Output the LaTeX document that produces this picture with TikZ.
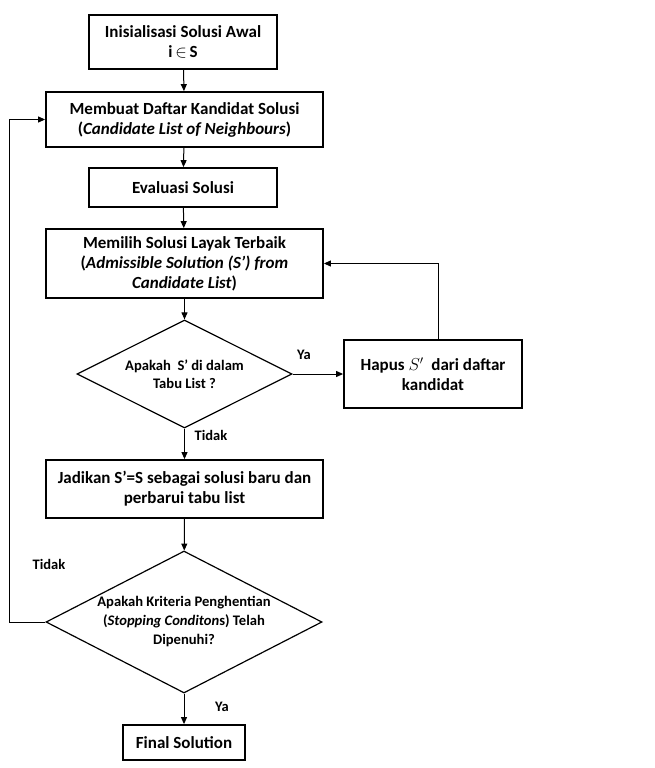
\documentclass[tikz,border=0pt]{standalone}
\usepackage{fontspec}
\setmainfont{Carlito}
\usetikzlibrary{shapes.geometric,arrows.meta}
\tikzset{
	kotak/.style={draw=black,line width=1.8pt,align=center,inner sep=0pt,font=\fontsize{17}{20}\selectfont\bfseries},
	belah/.style={draw=black,line width=1.2pt,diamond,align=center,inner sep=0pt,font=\fontsize{14.6}{19}\selectfont\bfseries},
	label/.style={font=\fontsize{14.5}{16}\selectfont\bfseries,inner sep=1pt},
	panah/.style={line width=1pt,-{Triangle[length=7pt,width=6pt]}}
}
\begin{document}
\begin{tikzpicture}[x=1pt,y=-1pt]
	\useasboundingbox (0,0) rectangle (655,768);
	\node[kotak,minimum width=188pt,minimum height=54pt] (B1) at (183,42){Inisialisasi Solusi Awal\\i\,$\in$\,S};
	\node[kotak,minimum width=277pt,minimum height=55pt] (B2) at (184.5,119.5){Membuat Daftar Kandidat Solusi\\(\textit{Candidate List of Neighbours})};
	\node[kotak,minimum width=188pt,minimum height=39pt] (B3) at (183,187.5){Evaluasi Solusi};
	\node[kotak,minimum width=277pt,minimum height=69pt] (B4) at (184.5,263.5){Memilih Solusi Layak Terbaik\\(\textit{Admissible Solution (S’) from}\\\textit{Candidate List})};
	\node[belah,shape aspect=2,minimum width=215pt,minimum height=108pt,font=\fontsize{14.6}{18}\selectfont\bfseries] (D1) at (184.5,374){Apakah~ S’ di dalam\\Tabu List ?};
	\node[kotak,minimum width=178pt,minimum height=68pt] (B5) at (433,374){Hapus $S'$~ dari daftar\\kandidat};
	\node[kotak,minimum width=277pt,minimum height=58pt] (B6) at (184.5,489){Jadikan S’=S sebagai solusi baru dan\\perbarui tabu list};
	\node[belah,shape aspect=1.94,minimum width=276pt,minimum height=142pt] (D2) at (184,622){Apakah Kriteria Penghentian\\(\textit{Stopping Conditon}s) Telah\\Dipenuhi?};
	\node[kotak,minimum width=122pt,minimum height=35pt] (B7) at (184,742.5){Final Solution};
	% label cabang
	\node[label] (L1) at (304,355){Ya};
	\node[label] (L2) at (211,435){Tidak};
	\node[label] (L3) at (49,564){Tidak};
	\node[label] (L4) at (222,707){Ya};
	% alur utama
	\draw[panah] (B1) -- (B2);
	\draw[panah] (B2) -- (B3);
	\draw[panah] (B3) -- (B4);
	\draw[panah] (B4) -- (D1);
	\draw[panah] (D1) -- (B5);
	\draw[panah] (D1) -- (B6);
	\draw[panah] (B6) -- (D2);
	\draw[panah] (D2) -- (B7);
	% umpan balik
	\draw[panah] (B5.north -| 438,0) |- (B4.east);
	\draw[panah] (D2.west) -- ++(-36,0) |- (B2.west);
\end{tikzpicture}
\end{document}
